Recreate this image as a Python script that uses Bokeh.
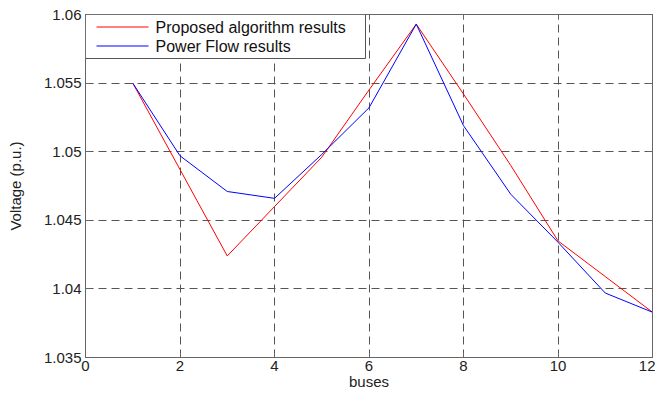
from bokeh.plotting import figure
from bokeh.models import (FixedTicker, LinearAxis, Range1d, CustomJSTickFormatter,
                          BoxAnnotation, Arrow, Label)
from bokeh.embed import file_html
from bokeh.resources import INLINE

buses = [1, 2, 3, 4, 5, 6, 7, 8, 9, 10, 11, 12]
proposed = [1.0550, 1.0487, 1.0424, 1.0460, 1.0496, 1.0545, 1.0593, 1.0542, 1.0490, 1.0435, 1.0409, 1.0383]
power_flow = [1.0550, 1.0497, 1.0471, 1.0466, 1.0498, 1.0532, 1.0593, 1.0519, 1.0469, 1.0434, 1.0397, 1.0383]
series_names = ["Proposed algorithm results", "Power Flow results"]
series_colors = ["red", "blue"]

x_ticks = [0, 2, 4, 6, 8, 10, 12]
y_ticks = [1.035, 1.04, 1.045, 1.05, 1.055, 1.06]
y_tick_labels = ["1.035", "1.04", "1.045", "1.05", "1.055", "1.06"]

X0, X1 = 0, 12
Y0, Y1 = 1.035, 1.06

FONT = "Liberation Sans"
GRID = "#555555"
AX = "#666666"

W, H = 655, 392
BL, BR, BT, BB = 85, 3, 14, 35
FW, FH = W - BL - BR, H - BT - BB  # frame size in px

p = figure(width=W, height=H, output_backend="svg", toolbar_location=None,
           x_range=Range1d(X0, X1), y_range=Range1d(Y0, Y1),
           min_border_left=BL, min_border_right=BR, min_border_top=BT, min_border_bottom=BB)
p.outline_line_color = AX
p.outline_line_width = 1

renderers = []
for ys, c in zip([proposed, power_flow], series_colors):
    renderers.append(p.line(buses, ys, line_color=c, line_width=1))

for ax in [p.xaxis[0], p.yaxis[0]]:
    ax.major_tick_in = 5
    ax.major_tick_out = 0
    ax.minor_tick_in = 0
    ax.minor_tick_out = 0
    ax.axis_line_color = AX
    ax.major_tick_line_color = AX
    ax.major_label_text_font = FONT
    ax.major_label_text_font_size = "15px"
    ax.major_label_text_color = "#222222"
    ax.axis_label_text_font = FONT
    ax.axis_label_text_font_size = "15px"
    ax.axis_label_text_font_style = "normal"
    ax.axis_label_text_color = "#222222"

p.xaxis[0].ticker = FixedTicker(ticks=x_ticks)
p.yaxis[0].ticker = FixedTicker(ticks=y_ticks)
p.yaxis[0].major_label_overrides = {t: l for t, l in zip(y_ticks, y_tick_labels)}
p.xaxis[0].axis_label = "buses"
p.yaxis[0].axis_label = "Voltage (p.u.)"
p.xaxis[0].major_label_standoff = 3
p.xaxis[0].axis_label_standoff = -1
p.yaxis[0].major_label_standoff = 4
p.yaxis[0].axis_label_standoff = 17

blank = CustomJSTickFormatter(code="return ''")
top = LinearAxis(ticker=FixedTicker(ticks=x_ticks), formatter=blank,
                 major_tick_in=5, major_tick_out=0, minor_tick_in=0, minor_tick_out=0,
                 axis_line_color=AX, major_tick_line_color=AX, major_label_standoff=0)
right = LinearAxis(ticker=FixedTicker(ticks=y_ticks), formatter=blank,
                   major_tick_in=5, major_tick_out=0, minor_tick_in=0, minor_tick_out=0,
                   axis_line_color=AX, major_tick_line_color=AX, major_label_standoff=0)
p.add_layout(top, "above")
p.add_layout(right, "right")

p.grid.grid_line_color = GRID
p.grid.grid_line_dash = "8 5"
p.grid.grid_line_width = 1
p.xgrid.ticker = FixedTicker(ticks=x_ticks)
p.ygrid.ticker = FixedTicker(ticks=y_ticks)

# legend box (pixel offsets from the frame's top-left corner, converted via the ranges)
xpp = (X1 - X0) / FW
ypp = (Y1 - Y0) / FH
LEG_W, LEG_H = 280, 44
ROWS = [12.5, 31.5]
LINE_X = (11, 63)
TEXT_X = 70

p.add_layout(BoxAnnotation(left=X0, right=X0 + LEG_W * xpp, top=Y1, bottom=Y1 - LEG_H * ypp,
                           fill_color="white", fill_alpha=1,
                           line_color="#555555", line_width=1, line_alpha=1))
for name, c, row in zip(series_names, series_colors, ROWS):
    yy = Y1 - row * ypp
    p.add_layout(Arrow(x_start=X0 + LINE_X[0] * xpp, y_start=yy,
                       x_end=X0 + LINE_X[1] * xpp, y_end=yy,
                       start=None, end=None, line_color=c, line_width=1))
    p.add_layout(Label(x=X0 + TEXT_X * xpp, y=yy, text=name, text_baseline="middle",
                       text_font=FONT, text_font_size="16px", text_color="#111111"))

open("out.html", "w").write(file_html(p, INLINE))
